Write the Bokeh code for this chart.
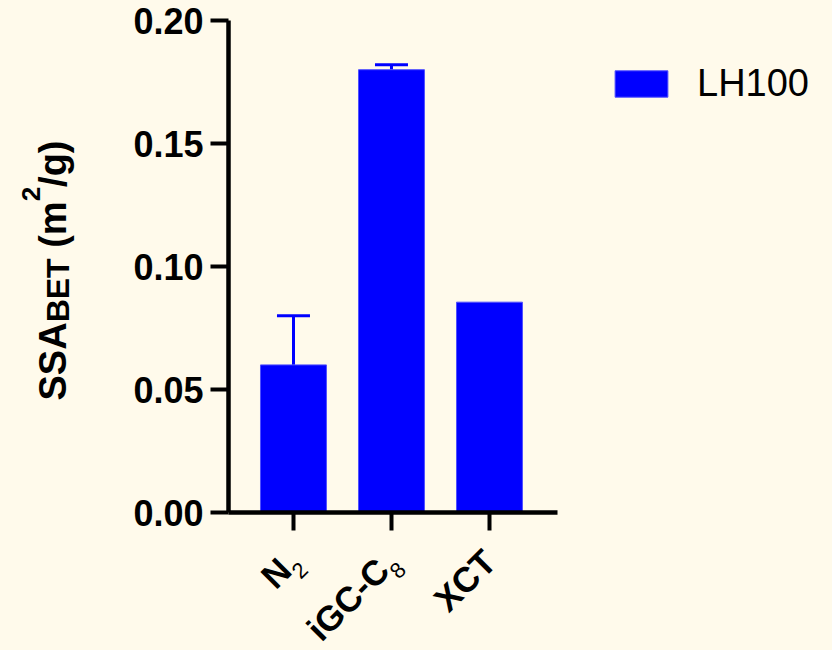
import math
from bokeh.plotting import figure
from bokeh.layouts import column, row
from bokeh.models import (Range1d, FixedTicker, NumeralTickFormatter, Whisker, TeeHead,
                          ColumnDataSource, Legend, LegendItem, Label)
from bokeh.embed import file_html
from bokeh.resources import INLINE

# ---- data ----
label_main = ["N", "iGC-C", "XCT"]
label_sub = ["2", "8", ""]
x_pos = [1, 2, 3]
values = [0.060, 0.180, 0.0855]
errors = [0.020, 0.002, 0.0]
y_ticks = [0.00, 0.05, 0.10, 0.15, 0.20]
series_name = "LH100"
y_title = [("SSA", "main"), ("BET", "sub"), (" (m", "main"), ("2", "sup"), ("/g)", "main")]

# ---- style / layout (page pixels) ----
BG = "#FFFAEB"
BLUE = "#0000FF"
FONT = "Liberation Sans"
PAGE_W, PAGE_H = 832, 650
YT_W = 80                 # width of the y-title strip
MAIN_H = 540              # height of the main plot
FR_L, FR_T, FR_W, FR_H = 228, 20, 329, 492
MID = 0.3465              # 'middle' baseline offset (em) for Liberation Sans

shared_x = Range1d(1 - 0.663, 3 + 0.694)

# ---------------- main plot ----------------
p = figure(frame_width=FR_W, frame_height=FR_H,
           min_border_left=FR_L - YT_W, min_border_right=PAGE_W - FR_L - FR_W,
           min_border_top=FR_T, min_border_bottom=MAIN_H - FR_T - FR_H,
           x_range=shared_x, y_range=Range1d(0, 0.2),
           output_backend="svg", toolbar_location=None,
           background_fill_color=BG, border_fill_color=BG, outline_line_color=None)
p.xgrid.visible = False
p.ygrid.visible = False

src = ColumnDataSource(dict(x=x_pos, top=values))
bars = p.vbar(x="x", top="top", bottom=0, width=0.673, source=src,
              fill_color=BLUE, line_color="#5050FF", line_width=1)

ex = [x for x, e in zip(x_pos, errors) if e > 0]
ev = [v for v, e in zip(values, errors) if e > 0]
eu = [v + e for v, e in zip(values, errors) if e > 0]
esrc = ColumnDataSource(dict(x=ex, lower=ev, upper=eu))
p.add_layout(Whisker(base="x", lower="lower", upper="upper", source=esrc, dimension="height",
                     line_color=BLUE, line_width=3,
                     upper_head=TeeHead(size=33, line_color=BLUE, line_width=3),
                     lower_head=None))

for ax in (p.xaxis, p.yaxis):
    ax.axis_line_width = 4.5
    ax.axis_line_color = "black"
    ax.major_tick_line_width = 4
    ax.major_tick_line_color = "black"
    ax.major_tick_out = 18
    ax.major_tick_in = 0
    ax.minor_tick_line_color = None

p.yaxis.ticker = FixedTicker(ticks=y_ticks)
p.yaxis.formatter = NumeralTickFormatter(format="0.00")
p.yaxis.major_label_text_font = FONT
p.yaxis.major_label_text_font_style = "bold"
p.yaxis.major_label_text_font_size = "36px"
p.yaxis.major_label_text_color = "black"
p.yaxis.major_label_standoff = 7

p.xaxis.ticker = FixedTicker(ticks=x_pos)
p.xaxis.major_label_overrides = {x: " " for x in x_pos}
p.xaxis.major_label_text_font_size = "1px"
p.xaxis.major_label_standoff = 0

legend = Legend(items=[LegendItem(label=series_name, renderers=[bars])],
                location=(51, 407), padding=0, margin=0, spacing=0,
                glyph_width=66, glyph_height=33, label_standoff=23, label_height=26,
                label_text_font=FONT, label_text_font_size="38px", label_text_color="black",
                border_line_alpha=0, background_fill_alpha=0)
p.add_layout(legend, "right")

# ---------------- y title strip (frame aligned with main frame; data y = page y) ----------------
yt = figure(frame_width=YT_W, frame_height=FR_H,
            min_border_left=0, min_border_right=0,
            min_border_top=FR_T, min_border_bottom=MAIN_H - FR_T - FR_H,
            x_range=Range1d(0, YT_W), y_range=Range1d(FR_T + FR_H, FR_T),
            x_axis_type=None, y_axis_type=None,
            output_backend="svg", toolbar_location=None,
            background_fill_color=BG, border_fill_color=BG, outline_line_color=None)

W = {"S": .667, "A": .722, "B": .722, "E": .667, "T": .611, " ": .278, "(": .333,
     "m": .889, "2": .556, "/": .278, "g": .611, ")": .333}
SIZES = {"main": 38, "sub": 32, "sup": 26}
BASE_X = {"main": 66, "sub": 69, "sup": 40}   # baseline position (page x)
pos = 400
for txt, kind in y_title:
    fs = SIZES[kind]
    t = txt
    if t.startswith(" "):
        pos -= W[" "] * fs
        t = t.lstrip()
    yt.add_layout(Label(x=BASE_X[kind] - MID * fs, y=pos, text=t, angle=math.pi / 2,
                        text_align="left", text_baseline="middle",
                        text_font=FONT, text_font_style="bold",
                        text_font_size=f"{fs}px", text_color="black"))
    pos -= sum(W[c] for c in t) * fs

# ---------------- x category labels strip ----------------
XL_H = PAGE_H - MAIN_H
xl = figure(frame_width=FR_W, frame_height=XL_H,
            min_border_left=FR_L, min_border_right=PAGE_W - FR_L - FR_W,
            min_border_top=0, min_border_bottom=0,
            x_range=shared_x, y_range=Range1d(PAGE_H, MAIN_H),
            x_axis_type=None, y_axis_type=None,
            output_backend="svg", toolbar_location=None,
            background_fill_color=BG, border_fill_color=BG, outline_line_color=None)

F_X, F_SUB = 35, 22
c45 = math.cos(math.pi / 4)
ANCHOR_Y = 555
SUB_DROP = 15
for x, main, sub in zip(x_pos, label_main, label_sub):
    w_sub = 0.556 * F_SUB if sub else 0
    xl.add_layout(Label(x=x, y=ANCHOR_Y + w_sub * c45, x_offset=-w_sub * c45,
                        text=main, angle=math.pi / 4,
                        text_align="right", text_baseline="middle",
                        text_font=FONT, text_font_style="bold",
                        text_font_size=f"{F_X}px", text_color="black"))
    if sub:
        xl.add_layout(Label(x=x, y=ANCHOR_Y + SUB_DROP * c45, x_offset=SUB_DROP * c45,
                            text=sub, angle=math.pi / 4,
                            text_align="right", text_baseline="middle",
                            text_font=FONT, text_font_style="normal",
                            text_font_size=f"{F_SUB}px", text_color="black"))

layout = column(row(yt, p, spacing=0), xl, spacing=0, styles={"background-color": BG})
open("out.html", "w").write(file_html(layout, INLINE))
